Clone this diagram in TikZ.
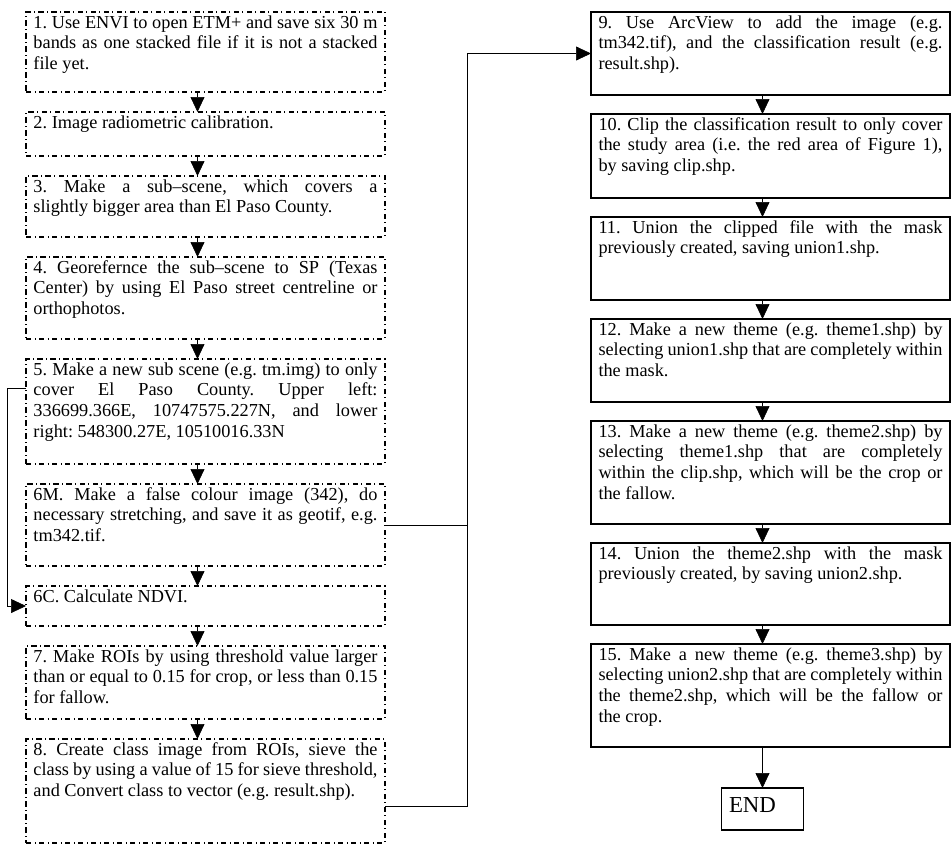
\documentclass[tikz,border=0pt]{standalone}
\usepackage{fontspec}
\setmainfont{Liberation Serif}
\usetikzlibrary{arrows.meta,positioning}
\frenchspacing
\tikzset{>={Triangle[length=.3cm,width=.28cm]},line width=.95pt,
  every node/.style={font=\fontsize{10.4}{11.8}\selectfont},
  stepbox/.style={draw,dashdotted,line width=.9pt,outer sep=0pt,text width=6.88cm,align=justify,
    inner xsep=.15cm,inner ysep=.08cm,text height=.24cm,text depth=#1},
  taskbox/.style={stepbox=#1,solid,line width=1pt},
  endbox/.style={draw,line width=1pt,outer sep=0pt,text width=1.34cm,inner xsep=.15cm,inner ysep=.08cm,
    text height=.4cm,text depth=.28cm,font=\fontsize{13}{15}\selectfont},
  flow/.style={->}}
\begin{document}
\begin{tikzpicture}
\useasboundingbox (0,0) rectangle (19.02,-17.02);
\begin{scope}[node distance=.4cm]
\node[stepbox=1.2cm,anchor=north west] (s1) at (.52,-.24) {1. Use ENVI to open ETM+ and save six 30 m\linebreak bands as one stacked file if it is not a stacked\linebreak file yet.};
\node[stepbox=.48cm,below=of s1] (s2) {2. Image radiometric calibration.};
\node[stepbox=.82cm,below=of s2] (s3) {3. Make a sub--scene, which covers a\linebreak slightly bigger area than El Paso County.};
\node[stepbox=1.24cm,below=of s3] (s4) {4. Georefernce the sub--scene to SP (Texas\linebreak Center) by using El Paso street centreline or\linebreak orthophotos.};
\node[stepbox=1.7cm,below=of s4] (s5) {5. Make a new sub scene (e.g. tm.img) to only\linebreak cover El Paso County. Upper left:\linebreak 336699.366E, 10747575.227N, and lower\linebreak right: 548300.27E, 10510016.33N};
\node[stepbox=1.24cm,below=of s5] (s6m) {6M. Make a false colour image (342), do\linebreak necessary stretching, and save it as geotif, e.g.\linebreak tm342.tif.};
\node[stepbox=.4cm,below=of s6m] (s6c) {6C. Calculate NDVI.};
\node[stepbox=1.06cm,below=of s6c] (s7) {7. Make ROIs by using threshold value larger\linebreak than or equal to 0.15 for crop, or less than 0.15\linebreak for fallow.};
\node[stepbox=1.68cm,below=of s7] (s8) {8. Create class image from ROIs, sieve the\linebreak class by using a value of 15 for sieve threshold,\linebreak and Convert class to vector (e.g. result.shp).};
\end{scope}
\begin{scope}[node distance=.38cm]
\node[taskbox=1.26cm,anchor=north west] (s9) at (11.82,-.24) {9. Use ArcView to add the image (e.g.\linebreak tm342.tif), and the classification result (e.g.\linebreak result.shp).};
\node[taskbox=1.28cm,below=of s9] (s10) {10. Clip the classification result to only cover\linebreak the study area (i.e. the red area of Figure 1),\linebreak by saving clip.shp.};
\node[taskbox=1.26cm,below=of s10] (s11) {11. Union the clipped file with the mask\linebreak previously created, saving union1.shp.};
\node[taskbox=1.26cm,below=of s11] (s12) {12. Make a new theme (e.g. theme1.shp) by\linebreak selecting union1.shp that are completely within\linebreak the mask.};
\node[taskbox=1.66cm,below=of s12] (s13) {13. Make a new theme (e.g. theme2.shp) by\linebreak selecting theme1.shp that are completely\linebreak within the clip.shp, which will be the crop or\linebreak the fallow.};
\node[taskbox=1.24cm,below=of s13] (s14) {14. Union the theme2.shp with the mask\linebreak previously created, by saving union2.shp.};
\node[taskbox=1.66cm,below=of s14] (s15) {15. Make a new theme (e.g. theme3.shp) by\linebreak selecting union2.shp that are completely within\linebreak the theme2.shp, which will be the fallow or\linebreak the crop.};
\node[endbox,below=.82cm of s15,xshift=-.16cm] (fin) {END};
\end{scope}
\draw[flow]([xshift=-.16cm]s1.south)--([xshift=-.16cm]s2.north);\draw[flow]([xshift=-.16cm]s2.south)--([xshift=-.16cm]s3.north);
\draw[flow]([xshift=-.16cm]s3.south)--([xshift=-.16cm]s4.north);\draw[flow]([xshift=-.16cm]s4.south)--([xshift=-.16cm]s5.north);
\draw[flow]([xshift=-.16cm]s5.south)--([xshift=-.16cm]s6m.north);\draw[flow]([xshift=-.16cm]s6m.south)--([xshift=-.16cm]s6c.north);
\draw[flow]([xshift=-.16cm]s6c.south)--([xshift=-.16cm]s7.north);\draw[flow]([xshift=-.16cm]s7.south)--([xshift=-.16cm]s8.north);
\draw[flow]([xshift=-.16cm]s9.south)--([xshift=-.16cm]s10.north);\draw[flow]([xshift=-.16cm]s10.south)--([xshift=-.16cm]s11.north);
\draw[flow]([xshift=-.16cm]s11.south)--([xshift=-.16cm]s12.north);\draw[flow]([xshift=-.16cm]s12.south)--([xshift=-.16cm]s13.north);
\draw[flow]([xshift=-.16cm]s13.south)--([xshift=-.16cm]s14.north);\draw[flow]([xshift=-.16cm]s14.south)--([xshift=-.16cm]s15.north);
\draw[flow](s15.south-|fin.north)--(fin.north);
\draw[flow]([yshift=.46cm]s5.west)--++(-.38,0)|-(s6c.west);
\coordinate (bus) at ([shift={(1.64,-.3)}]s8.east);
\draw[flow]([yshift=-.3cm]s8.east)--(bus)|-(s9.west);
\draw(s6m.east)--(s6m.east-|bus);
\end{tikzpicture}
\end{document}
